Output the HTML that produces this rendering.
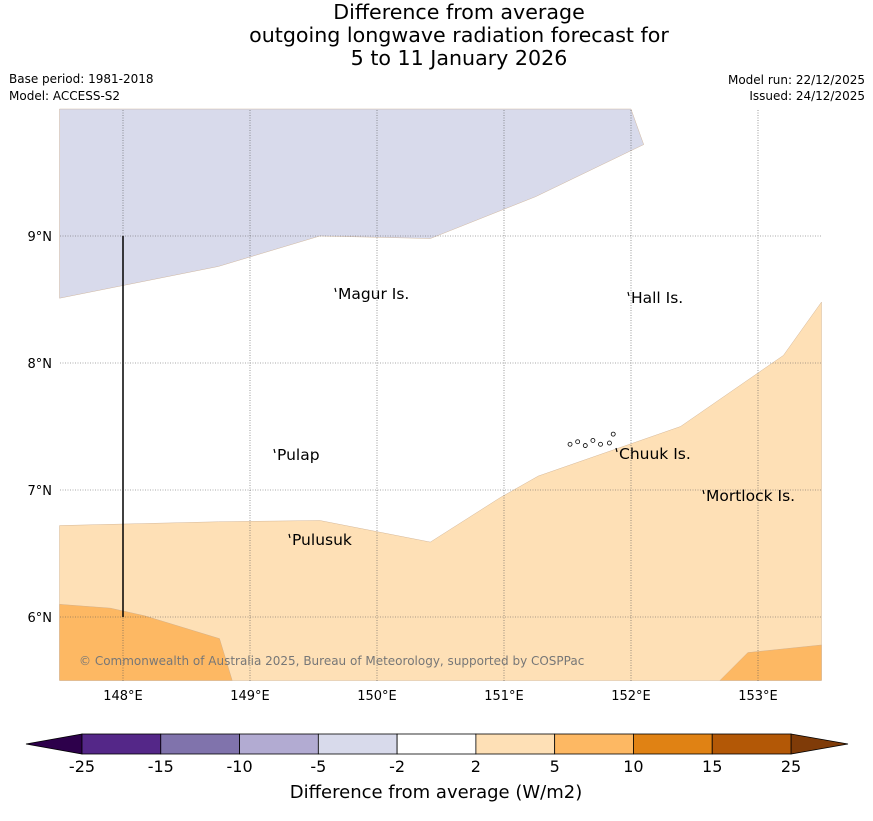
<!DOCTYPE html>
<html><head><meta charset="utf-8"><style>
body{margin:0;background:#fff;font-family:"Liberation Sans","DejaVu Sans",sans-serif}
svg text{font-family:"DejaVu Sans","Liberation Sans",sans-serif}
</style></head><body>
<svg id="chart" width="873" height="816" xmlns="http://www.w3.org/2000/svg">
<text x="459" y="19" font-size="20.6" text-anchor="middle">Difference from average</text>
<text x="459" y="42" font-size="20.6" text-anchor="middle">outgoing longwave radiation forecast for</text>
<text x="459" y="65" font-size="20.6" text-anchor="middle">5 to 11 January 2026</text>
<text x="9" y="83" font-size="12">Base period: 1981-2018</text>
<text x="9" y="100" font-size="12">Model: ACCESS-S2</text>
<text x="865" y="84" font-size="12" text-anchor="end">Model run: 22/12/2025</text>
<text x="865" y="100" font-size="12" text-anchor="end">Issued: 24/12/2025</text>
<g id="map"></g>
<g id="cbar"></g>
<text x="436" y="798" font-size="18" text-anchor="middle">Difference from average (W/m2)</text>
</svg>
<script>
const lonTicks=[148,149,150,151,152,153];
const latTicks=[6,7,8,9];
const purpleRegion=[[147.5,10],[147.5,8.51],[148.75,8.76],[149.55,9.0],[150.42,8.98],[151.25,9.31],[152.1,9.72],[152.0,10]];
const lightOrangeRegion=[[147.5,5.5],[147.5,6.72],[148.75,6.75],[149.55,6.76],[150.42,6.59],[150.97,6.94],[151.27,7.11],[152.39,7.50],[153.2,8.06],[153.5,8.48],[153.5,5.5]];
const orangeRegionWest=[[147.5,5.5],[147.5,6.10],[147.9,6.07],[148.17,6.01],[148.76,5.83],[148.86,5.5]];
const orangeRegionEast=[[152.7,5.5],[152.92,5.72],[153.5,5.78],[153.5,5.5]];
const islandNames=["Magur Is.","Hall Is.","Pulap","Chuuk Is.","Mortlock Is.","Pulusuk"];
const islandLon=[149.669,151.976,149.189,151.882,152.567,149.307];
const islandLat=[8.591,8.559,7.323,7.331,7.0,6.654];
const chuukLon=[151.52,151.58,151.64,151.70,151.76,151.83,151.86];
const chuukLat=[7.36,7.38,7.35,7.39,7.36,7.37,7.44];
const cbLevels=["-25","-15","-10","-5","-2","2","5","10","15","25"];
const cbColors=["#542788","#8073ac","#b2abd2","#d8daeb","#ffffff","#fee0b6","#fdb863","#e08214","#b35806"];
const NS="http://www.w3.org/2000/svg";
const X=lon=>59.5+(lon-147.5)*127;
const Y=lat=>236-(lat-9)*127;
function mk(tag,attrs,parent){const e=document.createElementNS(NS,tag);for(const k in attrs)e.setAttribute(k,attrs[k]);parent.appendChild(e);return e;}
const map=document.getElementById('map');
function poly(pts,fill,name){const p=mk('polygon',{points:pts.map(q=>X(q[0])+','+Y(q[1])).join(' '),fill:fill,stroke:'#c9a98a','stroke-width':0.4},map);

}
poly(purpleRegion,'#d8daeb','contour-minus5-minus2');
poly(lightOrangeRegion,'#fee0b6','contour-2-5');
poly(orangeRegionWest,'#fdb863','contour-5-10-west');
poly(orangeRegionEast,'#fdb863','contour-5-10-east');
lonTicks.forEach(l=>{const g=mk('line',{x1:X(l),x2:X(l),y1:110,y2:681,stroke:'#555','stroke-width':0.6,'stroke-dasharray':'1,1.5'},map);


const t=mk('text',{x:X(l),y:700,'font-size':13,'text-anchor':'middle'},map);t.textContent=l+'°E';

});
latTicks.forEach(l=>{const g=mk('line',{x1:60,x2:822,y1:Y(l),y2:Y(l),stroke:'#555','stroke-width':0.6,'stroke-dasharray':'1,1.5'},map);


const t=mk('text',{x:52,y:Y(l)+5,'font-size':13,'text-anchor':'end'},map);t.textContent=l+'°N';

});
const vl=mk('line',{x1:X(148),x2:X(148),y1:Y(9),y2:Y(6),stroke:'#000','stroke-width':1.5},map);


chuukLon.forEach((l,i)=>{const c=mk('circle',{cx:X(l),cy:Y(chuukLat[i]),r:2,fill:'none',stroke:'#000','stroke-width':0.8},map);

});
islandNames.forEach((n,i)=>{const m=mk('path',{d:`M${X(islandLon[i])},${Y(islandLat[i])} l1,4`,stroke:'#000','stroke-width':1.2,fill:'none'},map);


const t=mk('text',{x:X(islandLon[i])+3,y:Y(islandLat[i])+11,'font-size':15.5},map);t.textContent=n;

});
const cp=mk('text',{x:79,y:665,'font-size':12,fill:'#777'},map);cp.textContent='© Commonwealth of Australia 2025, Bureau of Meteorology, supported by COSPPac';


const cb=document.getElementById('cbar');
const x0=82,x1=791,y0=734,y1=754,w=(x1-x0)/cbColors.length;
const lt=mk('polygon',{points:`${x0},${y0} 26,744 ${x0},${y1}`,fill:'#2d004b',stroke:'#000','stroke-width':0.8},cb);


const rt=mk('polygon',{points:`${x1},${y0} 848,744 ${x1},${y1}`,fill:'#7f3b08',stroke:'#000','stroke-width':0.8},cb);


cbColors.forEach((c,i)=>{const r=mk('rect',{x:x0+i*w,y:y0,width:w,height:y1-y0,fill:c,stroke:'#000','stroke-width':0.8},cb);

});
cbLevels.forEach((l,i)=>{const t=mk('text',{x:x0+i*w,y:772,'font-size':16,'text-anchor':'middle'},cb);t.textContent=l;

});
</script>
</body></html>
